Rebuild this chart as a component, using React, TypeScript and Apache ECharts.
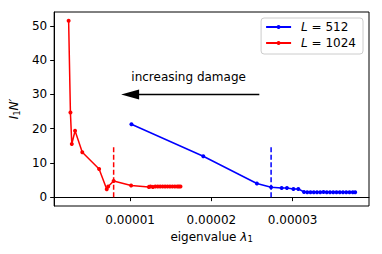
import React, { useEffect, useRef } from "react";
import * as echarts from "echarts";

// L = 512 (blue)
const blueX = [1.016e-5, 1.9e-5, 2.56e-5, 2.735e-5, 2.865e-5, 2.93e-5, 3.01e-5, 3.07e-5,
  3.14e-5, 3.18e-5, 3.22e-5, 3.26e-5, 3.30e-5, 3.34e-5, 3.38e-5, 3.42e-5, 3.46e-5, 3.50e-5,
  3.54e-5, 3.58e-5, 3.62e-5, 3.66e-5, 3.70e-5, 3.74e-5, 3.77e-5];
const blueY = [21.3, 11.95, 4.0, 2.9, 2.7, 2.7, 2.4, 2.4,
  1.5, 1.45, 1.45, 1.45, 1.45, 1.45, 1.5, 1.45, 1.45, 1.45,
  1.45, 1.45, 1.45, 1.45, 1.45, 1.45, 1.45];

// L = 1024 (red)
const redX = [2.43e-6, 2.65e-6, 2.82e-6, 3.22e-6, 4.11e-6, 6.18e-6, 7.12e-6, 7.3e-6, 7.97e-6,
  1.012e-5, 1.23e-5, 1.25e-5, 1.28e-5, 1.31e-5, 1.34e-5, 1.37e-5, 1.40e-5, 1.43e-5, 1.46e-5,
  1.49e-5, 1.52e-5, 1.55e-5, 1.58e-5, 1.60e-5, 1.62e-5];
const redY = [51.5, 24.7, 15.5, 19.4, 13.1, 8.2, 2.3, 3.1, 4.75,
  3.4, 3.0, 3.1, 3.0, 3.1, 3.1, 3.1, 3.1, 3.1, 3.1,
  3.1, 3.1, 3.1, 3.1, 3.1, 3.1];

// thresholds (dashed)
const blueThreshold = 2.735e-5;
const redThreshold = 7.97e-6;
const thresholdY = [0, 15];

// annotation
const arrowFrom = [2.59e-5, 30];
const arrowHead = [1.0e-5, 30];
const annotationPos = [1.72e-5, 35.2];
const annotationText = "increasing damage";

const xTicks = [1e-5, 2e-5, 3e-5];
const yTicks = [0, 10, 20, 30, 40, 50];
const seriesNames = ["L=512", "L=1024"];

const FONT = "DejaVu Sans";

export default function App() {
  const ref = useRef<HTMLDivElement>(null);
  useEffect(() => {
    const chart = echarts.init(ref.current!, null, { renderer: "svg" });
    const zip = (xs: number[], ys: number[]) => xs.map((x, i) => [x, ys[i]]);
    const subStyle = { fontFamily: FONT, fontSize: 8.5, verticalAlign: "bottom", padding: [5, 0, 0, 0], color: "#000" };
    chart.setOption({
      animation: false,
      grid: { left: 51, top: 12, right: 13, bottom: 48, show: true, borderColor: "#000", borderWidth: 1 },
      legend: {
        data: seriesNames,
        orient: "vertical",
        right: 19,
        top: 18,
        padding: [3, 7, 5, 4],
        itemWidth: 25,
        itemHeight: 5,
        itemGap: 4,
        borderColor: "#ccc",
        borderWidth: 1,
        borderRadius: 3,
        backgroundColor: "#fff",
        formatter: (name: string) => `{i|L} = ${name.split("=")[1]}`,
        textStyle: {
          fontFamily: FONT,
          fontSize: 12,
          color: "#000",
          padding: [0, 0, 0, 5],
          rich: {
            i: { fontFamily: FONT, fontSize: 12, fontStyle: "italic", color: "#000" },
          },
        },
      },
      xAxis: {
        type: "value",
        min: 6.5e-7,
        max: 3.94e-5,
        splitLine: { show: false },
        axisLine: { lineStyle: { color: "#000" } },
        axisTick: { customValues: xTicks, length: 4, lineStyle: { color: "#000" } },
        axisLabel: {
          customValues: xTicks,
          formatter: (v: number) => v.toFixed(5),
          fontFamily: FONT,
          fontSize: 12,
          color: "#000",
          margin: 8,
        },
        name: "eigenvalue {i|λ}{sub|1}",
        nameLocation: "middle",
        nameGap: 18,
        nameTextStyle: {
          fontFamily: FONT,
          fontSize: 12,
          color: "#000",
          rich: {
            i: { fontFamily: FONT, fontSize: 12, fontStyle: "italic", color: "#000" },
            sub: subStyle,
          },
        },
      },
      yAxis: {
        type: "value",
        min: -2.58,
        max: 54.08,
        splitLine: { show: false },
        axisLine: { show: true, lineStyle: { color: "#000" } },
        axisTick: { show: true, customValues: yTicks, length: 4, lineStyle: { color: "#000" } },
        axisLabel: {
          customValues: yTicks,
          fontFamily: FONT,
          fontSize: 12,
          color: "#000",
          margin: 7,
        },
        name: "{i|I}{sub|1}{i|N′}",
        nameLocation: "middle",
        nameGap: 25,
        nameRotate: 90,
        nameTextStyle: {
          fontFamily: FONT,
          fontSize: 12,
          color: "#000",
          rich: {
            i: { fontFamily: FONT, fontSize: 12, fontStyle: "italic", color: "#000" },
            sub: subStyle,
          },
        },
      },
      series: [
        {
          name: "L=512",
          type: "line",
          data: zip(blueX, blueY),
          color: "#0000ff",
          symbol: "circle",
          symbolSize: 4,
          lineStyle: { width: 1.5, color: "#0000ff" },
          itemStyle: { color: "#0000ff" },
          z: 3,
        },
        {
          name: "L=1024",
          type: "line",
          data: zip(redX, redY),
          color: "#ff0000",
          symbol: "circle",
          symbolSize: 4,
          lineStyle: { width: 1.5, color: "#ff0000" },
          itemStyle: { color: "#ff0000" },
          z: 3,
        },
        {
          name: "blueThreshold",
          type: "line",
          data: thresholdY.map((y) => [blueThreshold, y]),
          symbol: "none",
          lineStyle: { width: 1.5, color: "#0000ff", type: [5, 2.5] },
          z: 2,
        },
        {
          name: "redThreshold",
          type: "line",
          data: thresholdY.map((y) => [redThreshold, y]),
          symbol: "none",
          lineStyle: { width: 1.5, color: "#ff0000", type: [5, 2.5] },
          z: 2,
        },
        {
          name: "arrow",
          type: "line",
          data: [arrowFrom, arrowHead],
          symbol: "none",
          lineStyle: { width: 1.5, color: "#000", opacity: 1 },
          silent: true,
        },
        {
          name: "arrowHead",
          type: "scatter",
          data: [arrowHead],
          symbol: "triangle",
          symbolSize: [10, 18],
          symbolRotate: 90,
          itemStyle: { color: "#000", opacity: 1 },
          silent: true,
        },
        {
          name: "annotation",
          type: "scatter",
          data: [annotationPos],
          symbolSize: 0,
          label: {
            show: true,
            position: [0, 0],
            align: "center",
            verticalAlign: "middle",
            formatter: annotationText,
            fontFamily: FONT,
            fontSize: 12,
            color: "#000",
            textBorderWidth: 0,
            opacity: 1,
          },
          silent: true,
        },
      ],
    });
    return () => chart.dispose();
  }, []);
  return <div ref={ref} style={{ width: 382, height: 254, position: "absolute", left: 0, top: 0 }} />;
}
